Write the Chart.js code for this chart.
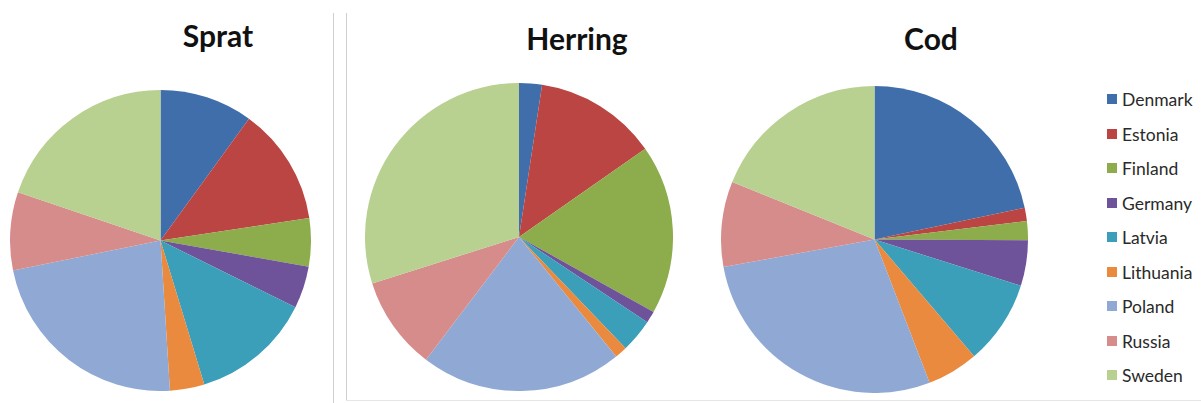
<!DOCTYPE html>
<html>
<head>
<meta charset="utf-8">
<script src="https://cdn.jsdelivr.net/npm/chart.js@4.4.1/dist/chart.umd.min.js"></script>
<style>
  body { margin: 0; background: #fff; width: 1201px; height: 403px; overflow: hidden; position: relative; font-family: Lato, 'Open Sans', sans-serif; }
  .box { position: absolute; }
  .title { position: absolute; font-weight: bold; font-size: 30px; color: #111; transform: translateX(-50%); white-space: nowrap; }
  .vline { position: absolute; width: 1px; background: #cfcfcf; }
  .hline { position: absolute; height: 1px; background: #e6e6e6; }
  #legend { position: absolute; left: 1107px; top: 89px; }
  .item { height: 34.5px; display: flex; align-items: flex-start; font-size: 17.5px; color: #2a2a2a; }
  .sw { width: 10px; height: 10px; margin: 5px 5px 0 0; }
</style>
</head>
<body>
<div class="vline" style="left:333px; top:13px; height:390px;"></div>
<div class="vline" style="left:346px; top:13px; height:388px;"></div>
<div class="hline" style="left:346px; top:400px; width:855px;"></div>

<div class="title" style="left:218px; top:17px;">Sprat</div>
<div class="title" style="left:577px; top:20px;">Herring</div>
<div class="title" style="left:931px; top:20px;">Cod</div>

<canvas id="sprat" class="box" width="301" height="301" style="left:10px; top:90px;"></canvas>
<canvas id="herring" class="box" width="308" height="308" style="left:365px; top:83px;"></canvas>
<canvas id="cod" class="box" width="307" height="307" style="left:721px; top:86px;"></canvas>

<div id="legend"></div>

<script>
// countries in legend order
const countries = ['Denmark', 'Estonia', 'Finland', 'Germany', 'Latvia', 'Lithuania', 'Poland', 'Russia', 'Sweden'];
const colors = ['#3f6eab', '#bb4542', '#8dac4c', '#6e529a', '#3b9fba', '#ea8a3e', '#8fa9d4', '#d78c8c', '#b8d090'];

// shares (%)
const sprat = [10.0, 12.6, 5.2, 4.5, 13.0, 3.7, 22.8, 8.4, 19.8];
const herring = [2.4, 12.9, 17.8, 1.25, 3.5, 1.3, 21.2, 9.8, 29.9];
const cod = [21.7, 1.4, 2.0, 4.8, 8.9, 5.4, 28.0, 9.0, 18.9];

function makePie(id, values) {
  new Chart(document.getElementById(id), {
    type: 'pie',
    data: {
      labels: countries,
      datasets: [{
        data: values,
        backgroundColor: colors,
        borderWidth: 0,
      }],
    },
    options: {
      responsive: false,
      animation: false,
      layout: { padding: 0 },
      plugins: {
        legend: { display: false },
        tooltip: { enabled: false },
      },
    },
  });
}

makePie('sprat', sprat);
makePie('herring', herring);
makePie('cod', cod);

const legend = document.getElementById('legend');
countries.forEach((name, i) => {
  const row = document.createElement('div');
  row.className = 'item';
  row.innerHTML = '<div class="sw" style="background:' + colors[i] + '"></div><span>' + name + '</span>';
  legend.appendChild(row);
});
</script>
</body>
</html>
